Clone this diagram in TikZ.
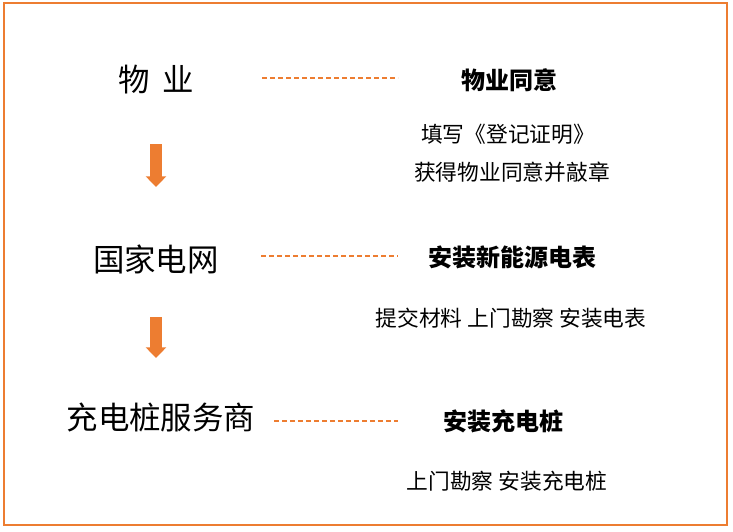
\documentclass[tikz,border=0pt]{standalone}
\usepackage{fontspec}
\setmainfont{Noto Sans CJK SC}
\usetikzlibrary{arrows.meta}
\definecolor{pptorange}{HTML}{ED7D31}

\begin{document}
\begin{tikzpicture}[
  x=0.75pt, y=-0.75pt,
  party/.style={font=\fontsize{23.6}{27}\selectfont, inner sep=0pt},
  stage/.style={font=\fontsize{18}{22}\selectfont\bfseries, inner sep=0pt},
  detail/.style={font=\fontsize{16.3}{20}\selectfont, inner sep=0pt},
  link/.style={draw=pptorange, line width=1.4pt, dash pattern=on 4pt off 2pt},
  down/.style={draw=pptorange, line width=9pt, -{Triangle[width=15pt,length=8pt]}}
]
  \useasboundingbox (0,0) rectangle (733,532);
  \draw[pptorange, line width=1.1pt] (4,3) rectangle (727,525);

  % --- Columna izquierda: los tres actores ---
  \node[party] (wuye)    at (156,80)  {物\hspace{0.4em}业};
  \node[party] (guowang) at (156,259) {国家电网};
  \node[party] (fuwu)    at (161,418) {充电桩服务商};

  % Flechas entre actores
  \coordinate (a1) at (156,144);
  \coordinate (b1) at (156,187);
  \coordinate (a2) at (156,317);
  \coordinate (b2) at (156,358);
  \draw[down] (a1) -- (b1);
  \draw[down] (a2) -- (b2);

  % --- Columna derecha: pasos ---
  \node[stage] (tongyi)  at (509,80)  {物业同意};
  \node[detail] (tian)   at (508,134) {填写《登记证明》};
  \node[detail] (huode)  at (512,172) {获得物业同意并敲章};

  \node[stage] (dianbiao) at (512,257) {安装新能源电表};
  \node[detail] (tijiao)  at (511,318) {提交材料 上门勘察 安装电表};

  \node[stage] (zhuang)  at (503,421) {安装充电桩};
  \node[detail] (kancha) at (507,481) {上门勘察 安装充电桩};

  % Líneas punteadas
  \coordinate (l1a) at (262,78);
  \coordinate (l1b) at (398,78);
  \coordinate (l2a) at (261,256);
  \coordinate (l2b) at (398,256);
  \coordinate (l3a) at (274,421);
  \coordinate (l3b) at (398,421);
  \draw[link] (l1a) -- (l1b);
  \draw[link] (l2a) -- (l2b);
  \draw[link] (l3a) -- (l3b);
\end{tikzpicture}
\end{document}
